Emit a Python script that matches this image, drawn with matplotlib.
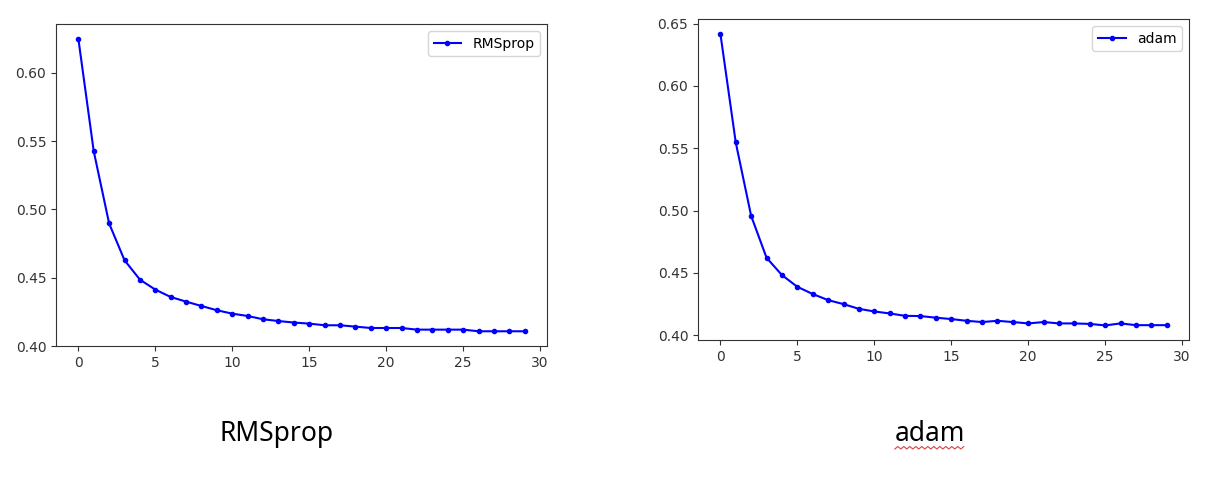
import numpy as np
import matplotlib
matplotlib.use("Agg")
import matplotlib.pyplot as plt
from matplotlib.lines import Line2D

epochs = list(range(30))

# loss per epoch
rmsprop_loss = [0.625, 0.5426, 0.4897, 0.4628, 0.4486, 0.4413, 0.4359, 0.4325, 0.4293, 0.4262,
                0.4237, 0.4220, 0.4196, 0.4183, 0.4172, 0.4164, 0.4152, 0.4152, 0.4142, 0.4132,
                0.4132, 0.4132, 0.4120, 0.4120, 0.4120, 0.4120, 0.4108, 0.4108, 0.4108, 0.4108]
adam_loss = [0.642, 0.5546, 0.4957, 0.4621, 0.4482, 0.4388, 0.4330, 0.4281, 0.4249, 0.4211,
             0.4190, 0.4174, 0.4155, 0.4153, 0.4140, 0.4129, 0.4115, 0.4105, 0.4115, 0.4105,
             0.4094, 0.4105, 0.4094, 0.4094, 0.4090, 0.4078, 0.4094, 0.4080, 0.4080, 0.4080]

names = ["RMSprop", "adam"]
captions = ["RMSprop", "adam"]

fig = plt.figure(figsize=(12.1, 4.86), dpi=100)
ax1 = fig.add_axes([0.0463, 0.288, 0.4058, 0.6626])
ax2 = fig.add_axes([0.5769, 0.3004, 0.4058, 0.6605])

for ax, loss, name in zip([ax1, ax2], [rmsprop_loss, adam_loss], names):
    ax.plot(epochs, loss, 'b.-', label=name, linewidth=1.5)
    ax.legend(loc='upper right')
    ax.set_xticks([0, 5, 10, 15, 20, 25, 30])
    ax.tick_params(labelsize=10, colors='#333333')
    for s in ax.spines.values():
        s.set_color('#333333')

ax1.set_yticks([0.40, 0.45, 0.50, 0.55, 0.60])
ax2.set_yticks([0.40, 0.45, 0.50, 0.55, 0.60, 0.65])

t1 = fig.text(277 / 1210, 1 - 434 / 486, captions[0], ha='center', va='center',
              fontsize=19, family='Noto Sans')
t2 = fig.text(930 / 1210, 1 - 434 / 486, captions[1], ha='center', va='center',
              fontsize=19, family='Noto Sans')

# red spell-check squiggle under "adam"
fig.canvas.draw()
bb = t2.get_window_extent()
xs = np.arange(bb.x0, bb.x1 + 1, 3.0)
ys = bb.y0 - 1 + np.where(np.arange(len(xs)) % 2 == 0, 0, 2.5)
fig.add_artist(Line2D(xs, ys, transform=None, color='#e04040', linewidth=0.8))

plt.savefig('out.png', dpi=100)
